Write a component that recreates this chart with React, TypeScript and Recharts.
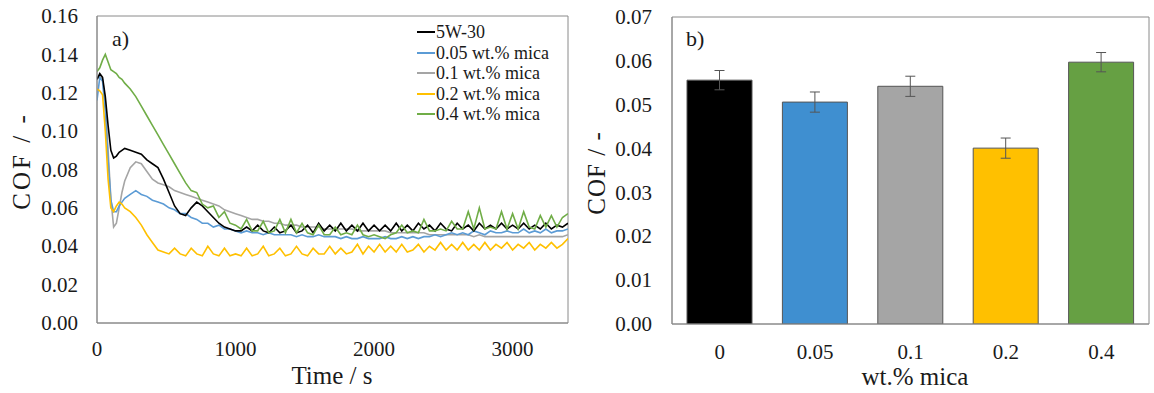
import React from 'react';
import {
  LineChart, Line, BarChart, Bar, XAxis, YAxis, Legend, ReferenceArea, ErrorBar, Cell,
} from 'recharts';

// ---------- Panel a) : COF vs time ----------
const TIME = [0, 20, 40, 60, 80, 100, 120, 140, 160, 180, 200,
  240, 280, 320, 360, 400, 440, 480, 520, 560, 600, 640, 680, 720, 760, 800, 840, 880, 920, 960, 1000,
  1040, 1080, 1120, 1160, 1200, 1240, 1280, 1320, 1360, 1400, 1440, 1480, 1520, 1560, 1600, 1640, 1680, 1720, 1760, 1800, 1840, 1880, 1920, 1960, 2000,
  2040, 2080, 2120, 2160, 2200, 2240, 2280, 2320, 2360, 2400, 2440, 2480, 2520, 2560, 2600, 2640, 2680, 2720, 2760, 2800, 2840, 2880, 2920, 2960, 3000,
  3040, 3080, 3120, 3160, 3200, 3240, 3280, 3320, 3360, 3400];

const COF_5W30 = [0.127, 0.130, 0.128, 0.118, 0.103, 0.090, 0.086, 0.087, 0.089, 0.090, 0.091,
  0.090, 0.089, 0.088, 0.085, 0.083, 0.081, 0.075, 0.068, 0.061, 0.057, 0.056, 0.060, 0.063, 0.061, 0.058, 0.055, 0.052, 0.050, 0.049, 0.048,
  0.048, 0.050, 0.048, 0.051, 0.048, 0.047, 0.050, 0.047, 0.048, 0.051, 0.047, 0.048, 0.051, 0.047, 0.052, 0.048, 0.051, 0.048, 0.052, 0.048, 0.051, 0.048, 0.052, 0.048, 0.051,
  0.048, 0.051, 0.048, 0.052, 0.048, 0.051, 0.048, 0.052, 0.049, 0.051, 0.048, 0.052, 0.049, 0.048, 0.052, 0.049, 0.051, 0.048, 0.052, 0.049, 0.051, 0.049, 0.052, 0.049, 0.051,
  0.049, 0.052, 0.049, 0.051, 0.049, 0.052, 0.049, 0.051, 0.050, 0.052];

const COF_005 = [0.116, 0.128, 0.126, 0.110, 0.085, 0.064, 0.058, 0.058, 0.061, 0.063, 0.065,
  0.067, 0.069, 0.067, 0.066, 0.064, 0.063, 0.062, 0.060, 0.059, 0.057, 0.057, 0.055, 0.054, 0.052, 0.052, 0.050, 0.051, 0.049, 0.049, 0.048,
  0.047, 0.048, 0.047, 0.047, 0.046, 0.047, 0.046, 0.046, 0.046, 0.046, 0.045, 0.046, 0.045, 0.045, 0.046, 0.045, 0.045, 0.045, 0.044, 0.045, 0.044, 0.044, 0.045, 0.044, 0.044,
  0.044, 0.045, 0.044, 0.044, 0.045, 0.044, 0.045, 0.044, 0.045, 0.045, 0.046, 0.045, 0.046, 0.047, 0.046, 0.047, 0.046, 0.048, 0.047, 0.046, 0.048, 0.047, 0.047, 0.048, 0.047,
  0.047, 0.049, 0.047, 0.048, 0.047, 0.049, 0.047, 0.048, 0.048, 0.049];

const COF_01 = [0.127, 0.129, 0.127, 0.115, 0.090, 0.065, 0.050, 0.052, 0.060, 0.068, 0.074,
  0.081, 0.084, 0.083, 0.079, 0.075, 0.073, 0.072, 0.071, 0.069, 0.068, 0.067, 0.066, 0.065, 0.064, 0.063, 0.062, 0.061, 0.059, 0.058, 0.057,
  0.056, 0.055, 0.054, 0.054, 0.053, 0.053, 0.052, 0.052, 0.051, 0.051, 0.051, 0.050, 0.050, 0.050, 0.050, 0.049, 0.049, 0.049, 0.049, 0.049, 0.049, 0.048, 0.048, 0.048, 0.048,
  0.048, 0.048, 0.047, 0.047, 0.047, 0.047, 0.047, 0.047, 0.047, 0.046, 0.046, 0.046, 0.046, 0.046, 0.046, 0.046, 0.046, 0.045, 0.046, 0.045, 0.045, 0.045, 0.045, 0.045, 0.045,
  0.045, 0.045, 0.045, 0.045, 0.045, 0.045, 0.045, 0.045, 0.045, 0.046];

const COF_02 = [0.122, 0.121, 0.119, 0.100, 0.075, 0.060, 0.058, 0.061, 0.063, 0.062, 0.060,
  0.058, 0.055, 0.051, 0.046, 0.042, 0.038, 0.037, 0.036, 0.039, 0.036, 0.035, 0.039, 0.036, 0.035, 0.040, 0.036, 0.035, 0.039, 0.035, 0.036,
  0.035, 0.039, 0.035, 0.036, 0.040, 0.035, 0.036, 0.039, 0.035, 0.036, 0.040, 0.036, 0.035, 0.039, 0.036, 0.036, 0.040, 0.036, 0.039, 0.036, 0.037, 0.041, 0.036, 0.040, 0.037,
  0.041, 0.037, 0.040, 0.037, 0.041, 0.037, 0.038, 0.041, 0.037, 0.040, 0.038, 0.042, 0.038, 0.041, 0.038, 0.042, 0.038, 0.041, 0.038, 0.042, 0.038, 0.041, 0.039, 0.042, 0.038,
  0.041, 0.039, 0.042, 0.038, 0.041, 0.039, 0.042, 0.039, 0.041, 0.044];

const COF_04 = [0.131, 0.133, 0.137, 0.140, 0.136, 0.132, 0.131, 0.130, 0.128, 0.127, 0.125,
  0.122, 0.118, 0.113, 0.108, 0.103, 0.098, 0.093, 0.088, 0.083, 0.078, 0.073, 0.069, 0.068, 0.062, 0.060, 0.061, 0.055, 0.058, 0.052, 0.051,
  0.049, 0.054, 0.048, 0.048, 0.053, 0.047, 0.048, 0.054, 0.047, 0.054, 0.047, 0.052, 0.047, 0.046, 0.051, 0.046, 0.046, 0.050, 0.046, 0.047, 0.046, 0.051, 0.046, 0.045, 0.046,
  0.045, 0.044, 0.046, 0.047, 0.051, 0.047, 0.048, 0.047, 0.054, 0.048, 0.048, 0.049, 0.048, 0.053, 0.049, 0.049, 0.058, 0.049, 0.060, 0.049, 0.050, 0.049, 0.058, 0.049, 0.057,
  0.049, 0.058, 0.050, 0.049, 0.056, 0.050, 0.056, 0.050, 0.055, 0.057];

const SERIES_NAMES = ['5W-30', '0.05 wt.% mica', '0.1 wt.% mica', '0.2 wt.% mica', '0.4 wt.% mica'];
const SERIES_KEYS = ['s5w30', 's005', 's01', 's02', 's04'];
const SERIES_COLORS = ['#000000', '#5b9bd5', '#a5a5a5', '#ffc000', '#70ad47'];
const DRAW_ORDER = [2, 1, 3, 0, 4];

const Y_TICKS_A = [0, 0.02, 0.04, 0.06, 0.08, 0.10, 0.12, 0.14, 0.16];
const X_TICKS_A = [0, 1000, 2000, 3000];

// ---------- Panel b) : mean COF ----------
const CATEGORIES = ['0', '0.05', '0.1', '0.2', '0.4'];
const MEAN_COF = [0.0556, 0.0506, 0.0542, 0.0401, 0.0597];
const ERR_COF = [0.0022, 0.0023, 0.0023, 0.0023, 0.0022];
const BAR_COLORS = ['#000000', '#3f8fd0', '#a5a5a5', '#ffc000', '#66a043'];
const Y_TICKS_B = [0, 0.01, 0.02, 0.03, 0.04, 0.05, 0.06, 0.07];

const SERIES_VALUES = [COF_5W30, COF_005, COF_01, COF_02, COF_04];
const lineData = TIME.map((t, i) => {
  const row: Record<string, number> = { t };
  SERIES_KEYS.forEach((k, j) => { row[k] = SERIES_VALUES[j][i]; });
  return row;
});
const barData = CATEGORIES.map((c, i) => ({ cat: c, cof: MEAN_COF[i], err: ERR_COF[i] }));

const FONT = '"Liberation Serif", "Times New Roman", serif';
const TXT = '#1a1a1a';
const AXIS = '#8a8a8a';

const fmt2 = (v: number) => Number(v).toFixed(2);
const tickTextStyle = { fontFamily: FONT, fontSize: 21 };

const YTick = (props: any) => {
  const { x, y, payload } = props;
  return (
    <text x={x} y={y} dy="0.34em" textAnchor="end" fill={TXT} style={tickTextStyle}>
      {fmt2(payload.value)}
    </text>
  );
};

const XTick = (props: any) => {
  const { x, y, payload } = props;
  return (
    <text x={x} y={y} dy="0.68em" textAnchor="middle" fill={TXT} style={tickTextStyle}>
      {String(payload.value)}
    </text>
  );
};

const LegendBox = () => (
  <div style={{ fontFamily: FONT, fontSize: 18, color: TXT, lineHeight: '20.5px' }}>
    {SERIES_NAMES.map((n, i) => (
      <div key={n} style={{ display: 'flex', alignItems: 'center', whiteSpace: 'nowrap' }}>
        <span style={{ display: 'inline-block', width: 18, height: 2, background: SERIES_COLORS[i], marginRight: 1 }} />
        <span>{n}</span>
      </div>
    ))}
  </div>
);

export default function App() {
  return (
    <div style={{ position: 'absolute', left: 0, top: 0, width: 1154, height: 393, background: '#fff', fontFamily: FONT }}>
      <div style={{ position: 'absolute', left: 0, top: 0 }}>
        <LineChart width={580} height={393} data={lineData} margin={{ top: 16, right: 12, left: 0, bottom: 30 }}
          style={{ fontFamily: FONT }}>
          <XAxis dataKey="t" type="number" domain={[0, 3400]} ticks={X_TICKS_A} allowDataOverflow
            height={40} tickLine={false} tickSize={0} tickMargin={19} axisLine={{ stroke: AXIS }} tick={<XTick />} />
          <YAxis type="number" domain={[0, 0.16]} ticks={Y_TICKS_A} allowDataOverflow width={97}
            tickLine={false} tickSize={0} tickMargin={19} axisLine={{ stroke: AXIS }} tick={<YTick />} />
          <ReferenceArea y1={0} y2={0.16} fill="none" stroke={AXIS} strokeWidth={1} ifOverflow="visible" />
          {DRAW_ORDER.map((j) => (
            <Line key={SERIES_KEYS[j]} dataKey={SERIES_KEYS[j]} name={SERIES_NAMES[j]} type="linear"
              stroke={SERIES_COLORS[j]} strokeWidth={1.6} dot={false} isAnimationActive={false} />
          ))}
          <Legend layout="vertical" align="center" verticalAlign="middle" content={() => <LegendBox />}
            wrapperStyle={{ left: 417, top: 22, width: 160, height: 110 }} />
        </LineChart>
      </div>
      <div style={{ position: 'absolute', left: 112, top: 26, fontSize: 22, color: TXT }}>a)</div>
      <div style={{ position: 'absolute', left: 232, top: 362, width: 200, textAlign: 'center', fontSize: 25, color: TXT, lineHeight: '28px' }}>Time / s</div>
      <div style={{ position: 'absolute', left: 22, top: 161, transform: 'translate(-50%, -50%) rotate(-90deg)', fontSize: 25, color: TXT, whiteSpace: 'nowrap', letterSpacing: 3 }}>COF / -</div>

      <div style={{ position: 'absolute', left: 580, top: 0 }}>
        <BarChart width={574} height={393} data={barData} margin={{ top: 17, right: 5, left: 0, bottom: 34 }}
          style={{ fontFamily: FONT }}>
          <XAxis dataKey="cat" height={35} tickLine={false} tickSize={0} tickMargin={21} axisLine={{ stroke: AXIS }} tick={<XTick />} />
          <YAxis type="number" domain={[0, 0.07]} ticks={Y_TICKS_B} allowDataOverflow width={92}
            tickLine={false} tickSize={0} tickMargin={20} axisLine={{ stroke: AXIS }} tick={<YTick />} />
          <ReferenceArea y1={0} y2={0.07} fill="none" stroke={AXIS} strokeWidth={1} ifOverflow="visible" />
          <Bar dataKey="cof" barSize={65} stroke="#555555" strokeWidth={1} isAnimationActive={false}>
            {barData.map((d, i) => <Cell key={d.cat} fill={BAR_COLORS[i]} />)}
            <ErrorBar dataKey="err" width={5} stroke="#555555" strokeWidth={1} />
          </Bar>
        </BarChart>
      </div>
      <div style={{ position: 'absolute', left: 686, top: 26, fontSize: 22, color: TXT }}>b)</div>
      <div style={{ position: 'absolute', left: 815, top: 363, width: 200, textAlign: 'center', fontSize: 25, color: TXT, lineHeight: '28px' }}>wt.% mica</div>
      <div style={{ position: 'absolute', left: 597, top: 173, transform: 'translate(-50%, -50%) rotate(-90deg)', fontSize: 25, color: TXT, whiteSpace: 'nowrap', letterSpacing: 1 }}>COF / -</div>
    </div>
  );
}
